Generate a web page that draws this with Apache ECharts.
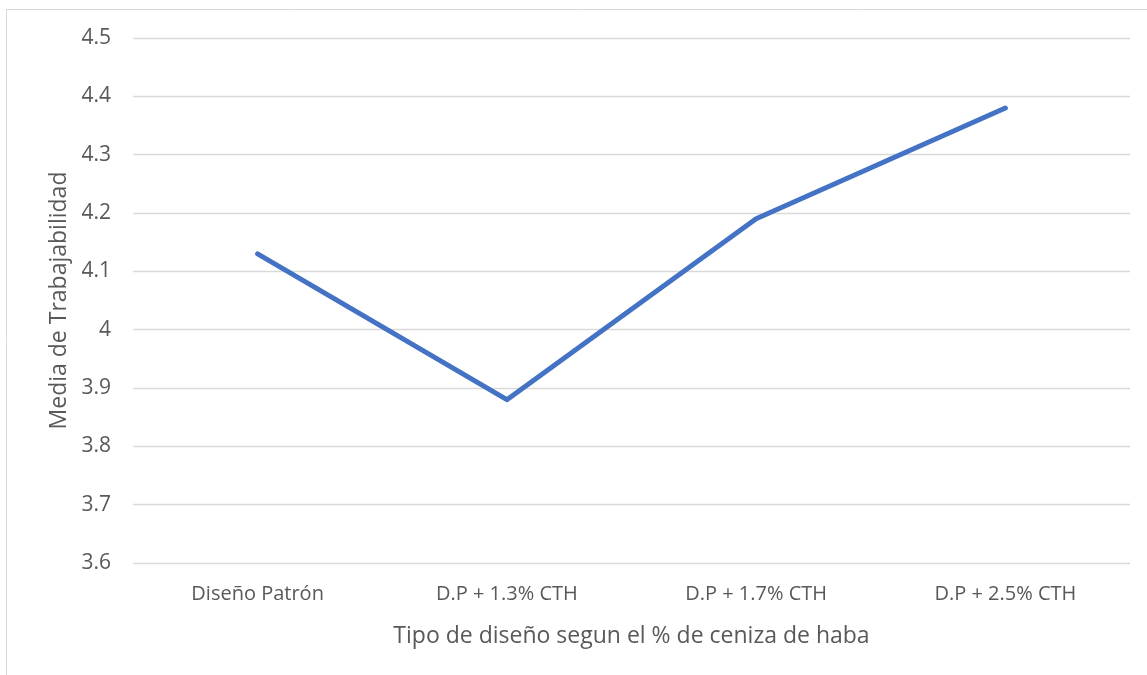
<!DOCTYPE html>
<html><head><meta charset="utf-8">
<script src="https://cdn.jsdelivr.net/npm/echarts@6/dist/echarts.min.js"></script>
<style>html,body{margin:0;padding:0;background:#fff}#c{width:1147px;height:675px}</style>
</head><body><div id="c"></div>
<script>
const categories = ['Diseño Patrón', 'D.P + 1.3% CTH', 'D.P + 1.7% CTH', 'D.P + 2.5% CTH'];
const values = [4.13, 3.88, 4.19, 4.38];
const xTitle = 'Tipo de diseño segun el % de ceniza de haba';
const yTitle = 'Media de Trabajabilidad';
const font = 'Open Sans';
const chart = echarts.init(document.getElementById('c'));
chart.setOption({
  animation: false,
  graphic: [{type:'rect', shape:{x:6.5,y:9.5,width:1160,height:700}, style:{fill:'none',stroke:'#d9d9d9',lineWidth:1}, silent:true}],
  grid: {left:133, right:17, top:38, bottom:112},
  xAxis: {
    type:'category', data:categories, boundaryGap:true,
    axisLine:{show:false}, axisTick:{show:false},
    axisLabel:{color:'#595959', fontSize:20, fontFamily:font, margin:21},
    name:xTitle, nameLocation:'middle', nameGap:62,
    nameTextStyle:{color:'#595959', fontSize:23, fontFamily:font}
  },
  yAxis: {
    type:'value', min:3.6, max:4.5, interval:0.1,
    axisLine:{show:false}, axisTick:{show:false},
    splitLine:{lineStyle:{color:'#d9d9d9', width:1.3}},
    axisLabel:{color:'#595959', fontSize:21, fontFamily:font, margin:22,
      formatter: v => String(Math.round(v*10)/10)},
    name:yTitle, nameLocation:'middle', nameGap:60,
    nameTextStyle:{color:'#595959', fontSize:23, fontFamily:font}
  },
  series: [{type:'line', data:values, symbol:'none',
    lineStyle:{color:'#4472C4', width:5, cap:'round', join:'round'}}]
});
</script></body></html>
